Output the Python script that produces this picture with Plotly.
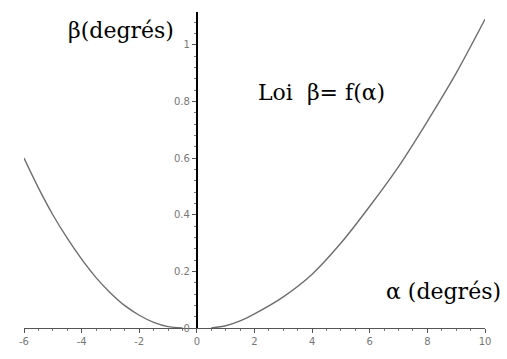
import plotly.graph_objects as go

# Branches of the law beta = f(alpha), in degrees
alpha_left = [-6, -5.5, -5, -4.5, -4, -3.5, -3, -2.5, -2, -1.5, -1, -0.5]
beta_left = [0.60, 0.495, 0.40, 0.317, 0.243, 0.178, 0.124, 0.079, 0.045, 0.020, 0.005, 0.0]
alpha_right = [0.5, 1, 1.5, 2, 3, 4, 5, 6, 7, 8, 9, 10]
beta_right = [0.0, 0.008, 0.025, 0.05, 0.11, 0.19, 0.30, 0.43, 0.57, 0.73, 0.90, 1.09]

x_ticks = [-6, -4, -2, 0, 2, 4, 6, 8, 10]
x_ticktext = ["-6", "-4", "-2", "0", "2", "4", "6", "8", "10"]
y_ticks = [0, 0.2, 0.4, 0.6, 0.8, 1]
y_ticktext = ["0", "0.2", "0.4", "0.6", "0.8", "1"]

X_MIN, X_MAX = -6, 10
Y_MIN, Y_MAX = 0, 1.116

W, H = 507, 359
M_L, M_R, M_T, M_B = 24, 22, 12, 21
PLOT_W, PLOT_H = W - M_L - M_R, H - M_T - M_B


def px_to_paper(px, py):
    """Pixel position on the page -> paper coordinates of the plot area."""
    return (px - M_L) / PLOT_W, (H - M_B - py) / PLOT_H


curve_style = dict(color="#6e6e6e", width=1.4, shape="spline", smoothing=0.8)

fig = go.Figure()
fig.add_trace(go.Scatter(x=alpha_left, y=beta_left, mode="lines",
                         line=curve_style, hoverinfo="skip"))
fig.add_trace(go.Scatter(x=alpha_right, y=beta_right, mode="lines",
                         line=curve_style, hoverinfo="skip"))

tick_font = dict(family="DejaVu Sans", size=10, color="#777777")
serif = dict(family="DejaVu Serif", size=22, color="black")

fig.update_layout(
    width=W, height=H,
    margin=dict(l=M_L, r=M_R, t=M_T, b=M_B),
    paper_bgcolor="white", plot_bgcolor="white",
    showlegend=False,
    xaxis=dict(
        range=[X_MIN, X_MAX], domain=[0, 1],
        showgrid=False, zeroline=False,
        showline=True, linecolor="#555555", linewidth=1,
        tickmode="array", tickvals=x_ticks, ticktext=x_ticktext,
        ticks="outside", ticklen=4, tickcolor="#555555",
        minor=dict(dtick=0.5, ticks="outside", ticklen=2, tickcolor="#777777"),
        tickfont=tick_font,
    ),
    yaxis=dict(
        range=[Y_MIN, Y_MAX],
        anchor="free", position=(0 - X_MIN) / (X_MAX - X_MIN),
        showgrid=False, zeroline=False,
        showline=True, linecolor="black", linewidth=2,
        tickmode="array", tickvals=y_ticks, ticktext=y_ticktext,
        ticks="outside", ticklen=4, tickcolor="#555555",
        minor=dict(dtick=0.04, ticks="outside", ticklen=2, tickcolor="#777777"),
        tickfont=tick_font,
    ),
)

labels = [("β(degrés)", 66, 31), ("Loi  β= f(α)", 256, 95), ("α (degrés)", 384, 300)]
for text, px, py in labels:
    xp, yp = px_to_paper(px, py)
    fig.add_annotation(text=text, xref="paper", yref="paper", x=xp, y=yp,
                       xanchor="left", yanchor="middle", showarrow=False,
                       font=serif)

fig.write_html("out.html")
